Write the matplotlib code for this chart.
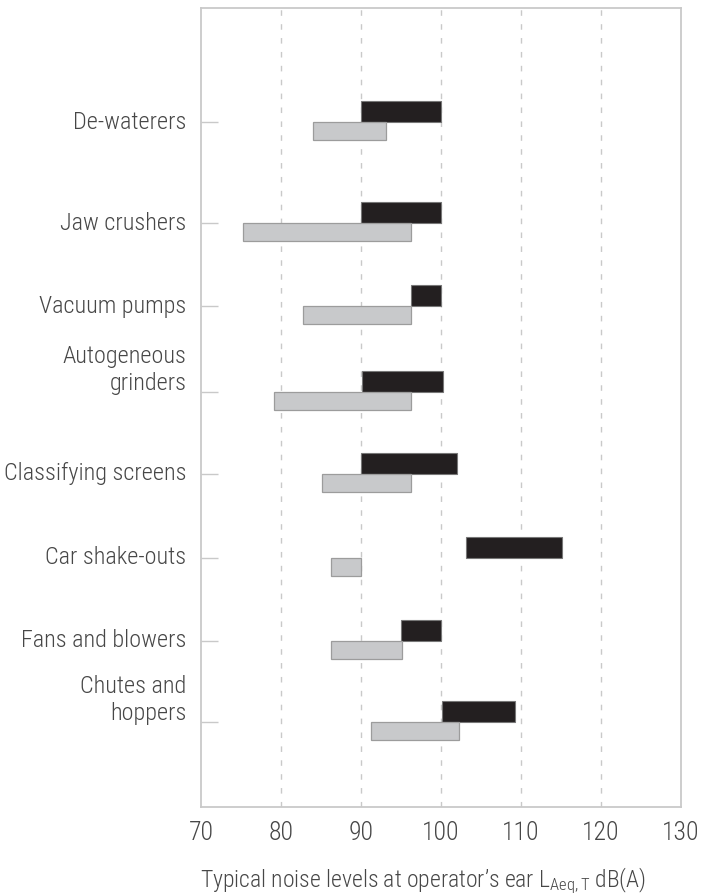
"""Typical noise levels at operator's ear - floating bar chart"""
import matplotlib
matplotlib.use('Agg')
import matplotlib.pyplot as plt
import matplotlib.transforms as mtransforms

plt.rcParams['font.family'] = ['Roboto Condensed', 'DejaVu Sans']
plt.rcParams['font.weight'] = 300
plt.rcParams['axes.labelweight'] = 300
plt.rcParams['mathtext.fontset'] = 'custom'
plt.rcParams['mathtext.rm'] = 'Roboto Condensed:light'
plt.rcParams['mathtext.it'] = 'Roboto Condensed:light'

categories = ['De-waterers', 'Jaw crushers', 'Vacuum pumps',
              'Autogeneous\ngrinders', 'Classifying screens',
              'Car shake-outs', 'Fans and blowers', 'Chutes and\nhoppers']
black_lo = [90, 90, 96.2, 90.1, 90, 103.1, 95, 100.1]
black_hi = [100, 100, 100, 100.2, 102, 115.1, 100, 109.3]
gray_lo = [84, 75.2, 82.8, 79.1, 85.1, 86.2, 86.2, 91.2]
gray_hi = [93.1, 96.3, 96.3, 96.3, 96.3, 90, 95.1, 102.3]
xticks = [70, 80, 90, 100, 110, 120, 130]

# vertical layout of the category rows (not evenly spaced in the original)
pos = [0, 1.22, 2.22, 3.25, 4.24, 5.25, 6.25, 7.23]
h_black = 0.253
h_gray = 0.217

txt = '#474747'
axc = '#c9c9c9'

fig = plt.figure(figsize=(7.04, 8.94), dpi=100)
ax = fig.add_axes([0.2855, 0.0973, 0.6818, 0.8937])

ax.barh([p - h_black for p in pos],
        [hi - lo for lo, hi in zip(black_lo, black_hi)],
        left=black_lo, height=h_black, align='edge',
        color='#231f20', edgecolor='#777777', linewidth=0.8, zorder=3)
ax.barh(pos,
        [hi - lo for lo, hi in zip(gray_lo, gray_hi)],
        left=gray_lo, height=h_gray, align='edge',
        color='#c8c9cb', edgecolor='#9c9c9c', linewidth=0.9, zorder=3)

ax.set_xlim(70, 130)
ax.set_ylim(8.253, -1.373)

for x in xticks[1:-1]:
    ax.axvline(x, color=axc, lw=1, linestyle=(0, (4, 6)), zorder=1)

for s in ax.spines.values():
    s.set_color(axc)
    s.set_linewidth(1.3)

ax.set_xticks(xticks)
ax.set_xticklabels([str(x) for x in xticks], fontsize=18.5, color=txt)
ax.tick_params(axis='x', length=0, pad=10)

ax.set_yticks(pos)
ax.set_yticklabels([])
ax.tick_params(axis='y', direction='in', length=12, width=1, color=axc)

trans = mtransforms.blended_transform_factory(ax.transAxes, ax.transData)
for p, lab in zip(pos, categories):
    if '\n' in lab:
        ax.text(-0.03, p + 0.04, lab, transform=trans, ha='right', va='bottom',
                fontsize=17.5, color=txt, linespacing=1.25)
    else:
        ax.text(-0.03, p, lab, transform=trans, ha='right', va='center',
                fontsize=17.5, color=txt)

ax.set_xlabel(r"Typical noise levels at operator’s ear L$_{\mathrm{Aeq,T}}$ dB(A)",
              fontsize=17, fontweight=300, color=txt)
ax.xaxis.set_label_coords(0.4625, -0.073)

fig.savefig('out.png', dpi=100)
